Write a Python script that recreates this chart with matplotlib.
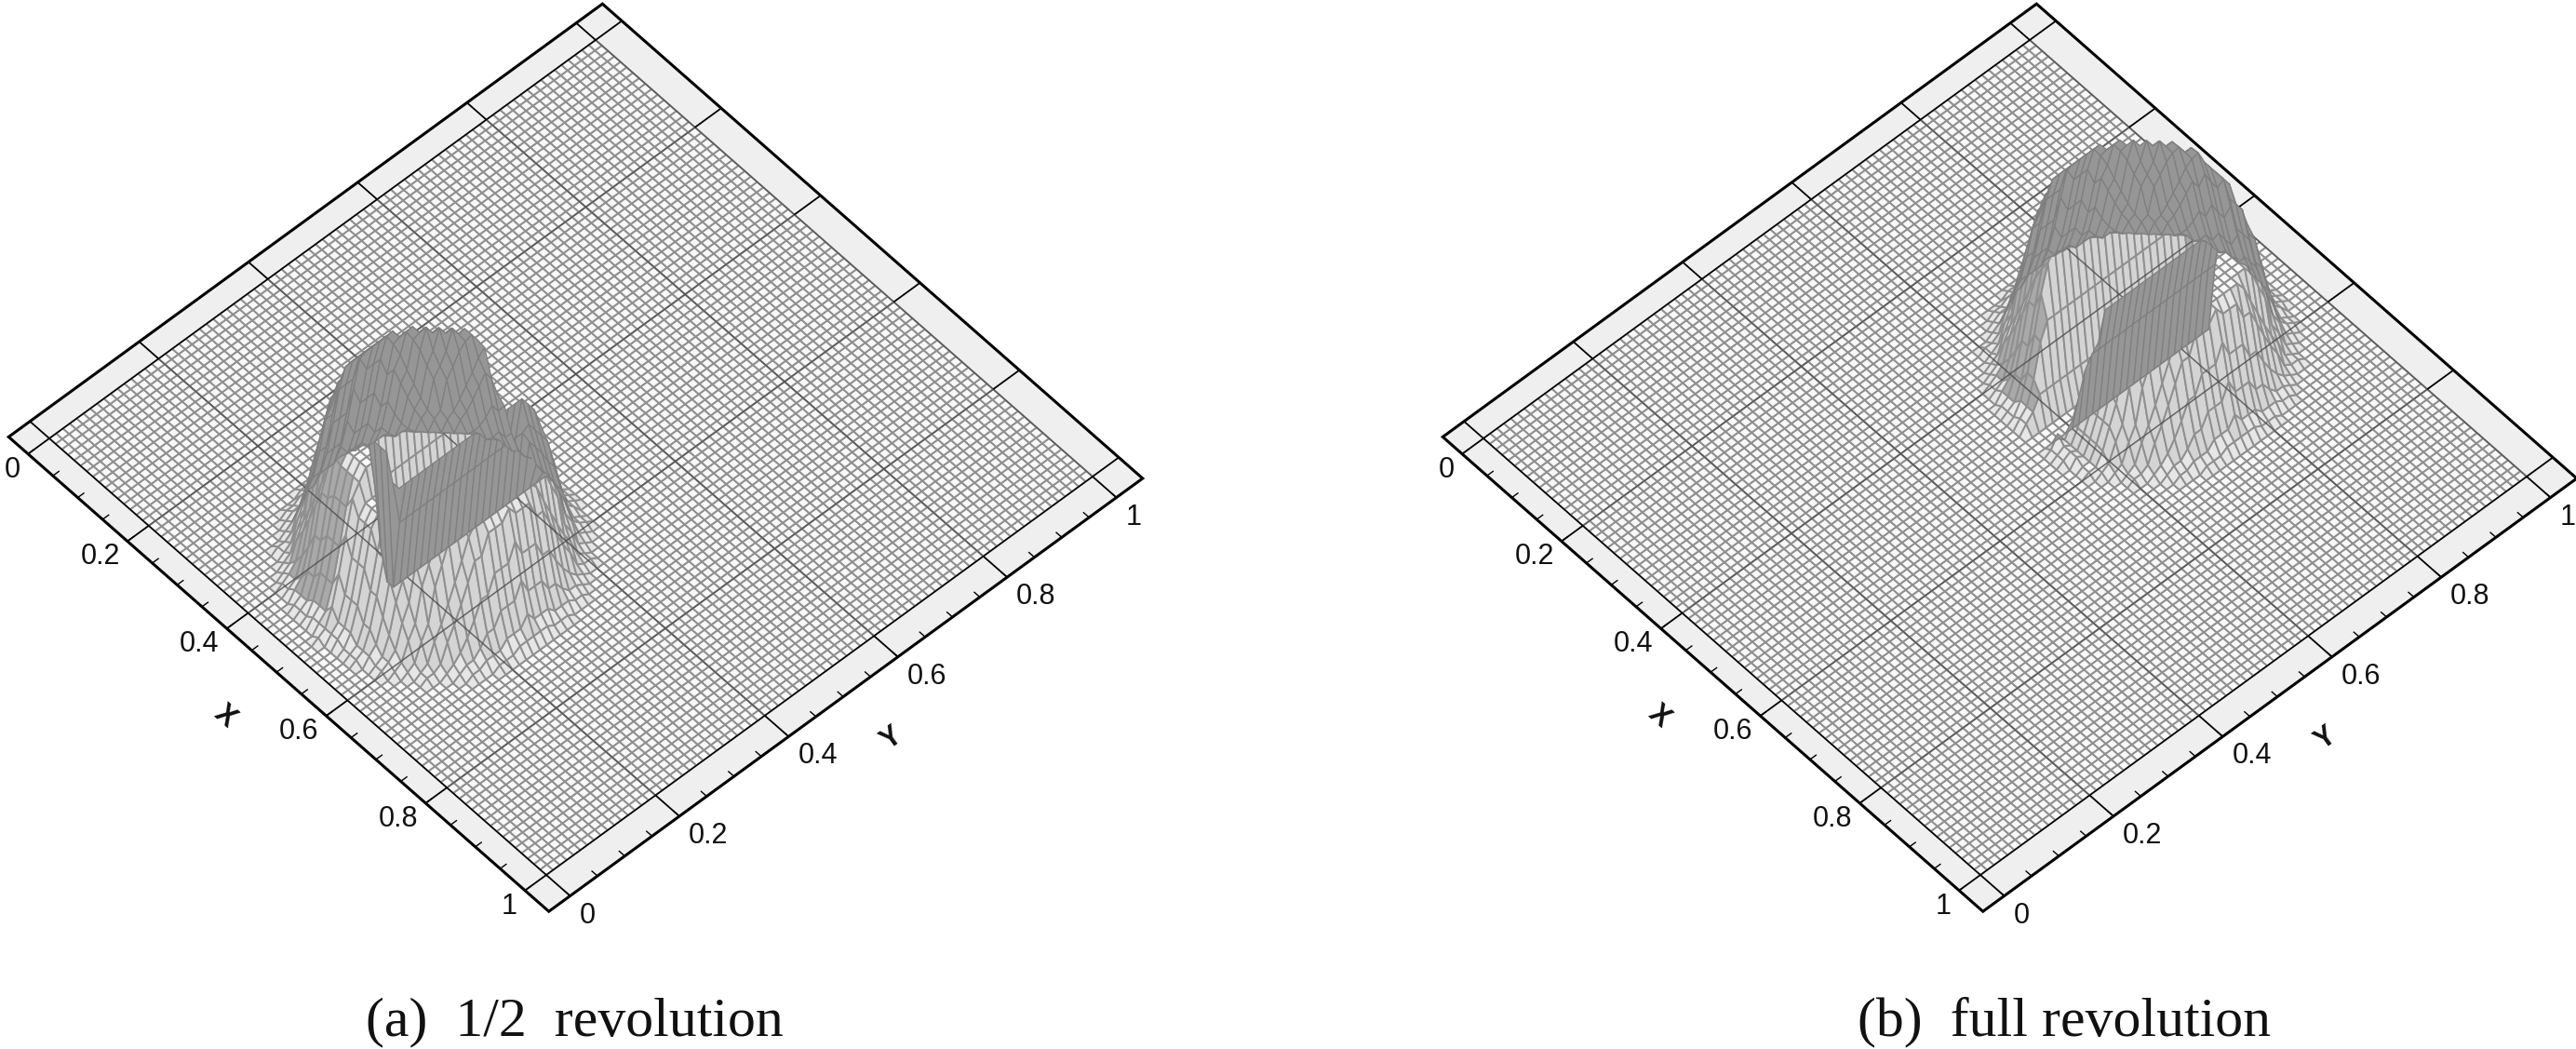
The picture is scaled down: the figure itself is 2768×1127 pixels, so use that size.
import numpy as np
import matplotlib
matplotlib.use('Agg')
import matplotlib.pyplot as plt
from matplotlib.collections import PolyCollection, LineCollection
from matplotlib.patches import Polygon

# ---- values ----
X_TICKS = [0, 0.2, 0.4, 0.6, 0.8, 1]
Y_TICKS = [0, 0.2, 0.4, 0.6, 0.8, 1]
X_TICK_LABELS = ['0', '0.2', '0.4', '0.6', '0.8', '1']
Y_TICK_LABELS = ['0', '0.2', '0.4', '0.6', '0.8', '1']
MINOR_TICKS = [k / 20 for k in range(21)]
CAPTIONS = ['(a)  1/2  revolution', '(b)  full revolution']
CELLS = 80

# half-width (in mesh cells, along y) of each height contour, per row distance from the disk centre
W_100 = [10, 10, 10, 10, 9, 9, 8, 7, 6, 5, 3, -1, -1, -1, -1, -1, -1]
W_093 = [11, 11, 11, 11, 10, 10, 9, 9, 8, 7, 5, 3, -1, -1, -1, -1, -1]
W_085 = [12, 11, 11, 11, 11, 10, 10, 9, 8, 7, 6, 4, 0, -1, -1, -1, -1]
W_075 = [12, 12, 12, 12, 11, 11, 10, 10, 9, 8, 7, 5, 3, -1, -1, -1, -1]
W_062 = [13, 12, 12, 12, 12, 12, 11, 10, 10, 9, 8, 6, 5, 0, -1, -1, -1]
W_050 = [13, 13, 13, 13, 12, 12, 12, 11, 10, 10, 9, 7, 6, 3, -1, -1, -1]
W_038 = [14, 13, 13, 13, 13, 13, 12, 12, 11, 10, 9, 8, 7, 5, 0, -1, -1]
W_027 = [14, 14, 14, 14, 13, 13, 13, 12, 12, 11, 10, 9, 8, 6, 3, -1, -1]
W_018 = [15, 14, 14, 14, 14, 14, 13, 13, 12, 12, 11, 10, 9, 7, 5, 0, -1]
W_011 = [15, 15, 15, 15, 14, 14, 14, 13, 13, 12, 11, 10, 9, 8, 6, 3, -1]
W_006 = [16, 16, 16, 15, 15, 15, 15, 14, 14, 13, 12, 11, 10, 9, 8, 6, 2]
W_003 = [17, 16, 16, 16, 16, 16, 15, 15, 15, 14, 13, 12, 12, 10, 9, 8, 5]
CONTOUR_LEVELS = [0.03, 0.06, 0.11, 0.18, 0.27, 0.38, 0.50, 0.62, 0.75, 0.85, 0.93, 1.00]
CONTOUR_WIDTHS = [W_003, W_006, W_011, W_018, W_027, W_038, W_050, W_062, W_075, W_085, W_093, W_100]

DISK_ROW = [40, 40]            # x index of the disk centre in (a), (b)
DISK_COL = [20, 60]            # y index of the disk centre in (a), (b)
SLOT_ROWS_A = [-3, -2, -1, 0, 1]
SLOT_LEVELS_A = [0.62, 0.2, 0.0, 0.0, 0.5]
SLOT_COLS_A = (-6, 18)
SLOT_ROWS_B = [-2, -1, 0, 1, 2, 3]
SLOT_LEVELS_B = [0.62, 0.2, 0.0, 0.0, 0.0, 0.5]
SLOT_COLS_B = (-18, 8)
FRONT_CAP = 0.82               # height of the piece in front of the slot
FAR_GAIN = [1.12, 1.03]        # the far piece stands a little higher
# heights of the front piece close to the slot mouth: offset from disk centre (cols), level
LIP_COLS_B = [-14, -13, -12, -11, -10]
LIP_LEVELS_B = [0.03, 0.12, 0.25, 0.42, 0.62]
LIP_COLS_A = [12, 13, 14]
LIP_LEVELS_A = [0.6, 0.4, 0.2]

# ---- projection of the view (pixels) ----
ORIGIN = np.array([53.0, 471.0])
EX = np.array([534.0, 469.0])
EY = np.array([587.0, -428.0])
ZPX = 150.0
M_LOW = 0.039
M_HIGH = 0.048
PANEL_SHIFT = 1541
PANEL_W = 1230
W, H = 2768, 1127


def project(x, y, z=0.0):
    x, y, z = np.asarray(x, float), np.asarray(y, float), np.asarray(z, float)
    return (ORIGIN[0] + x * EX[0] + y * EY[0],
            ORIGIN[1] + x * EX[1] + y * EY[1] - z * ZPX)


def heights(row0, col0, slot_rows, slot_levels, slot_cols, gain, lip_cols, lip_levels):
    z = np.zeros((CELLS + 1, CELLS + 1))
    for level, widths in zip(CONTOUR_LEVELS, CONTOUR_WIDTHS):
        for d, w in enumerate(widths):
            if w < 0:
                continue
            for r in {row0 - d, row0 + d}:
                z[r, col0 - w:col0 + w + 1] = level
    front_row = row0 + max(slot_rows)
    far_row = row0 + min(slot_rows)
    z[front_row:] = np.minimum(z[front_row:], FRONT_CAP)
    z[:far_row] = z[:far_row] * gain
    for c, lev in zip(lip_cols, lip_levels):
        z[front_row:front_row + 6, col0 + c] = np.minimum(z[front_row:front_row + 6, col0 + c], lev)
    for dr, lev in zip(slot_rows, slot_levels):
        a = col0 + slot_cols[0]
        b = col0 + slot_cols[1] + 1
        z[row0 + dr, a:b] = np.minimum(z[row0 + dr, a:b], lev)
    return z


def draw_panel(ax, z, row0, far_row):
    grid = np.linspace(0, 1, CELLS + 1)
    xx, yy = np.meshgrid(grid, grid, indexing='ij')
    px, py = project(xx, yy, z)
    front, front_c, back = [], [], []
    for i in range(CELLS - 1, -1, -1):
        for j in range(CELLS):
            quad = np.array([[px[i, j], py[i, j]], [px[i + 1, j], py[i + 1, j]],
                             [px[i + 1, j + 1], py[i + 1, j + 1]], [px[i, j + 1], py[i, j + 1]]])
            a = 0.5 * np.sum(quad[:, 0] * np.roll(quad[:, 1], -1) - np.roll(quad[:, 0], -1) * quad[:, 1])
            cell = z[i:i + 2, j:j + 2]
            steep = np.ptp(cell)
            dzx = abs(cell[1].mean() - cell[0].mean())
            dzy = abs(cell[:, 1].mean() - cell[:, 0].mean())
            if a > 0:          # reversed winding on screen: faces away from the viewer
                back.append(quad)
            else:
                front.append(quad)
                if i < far_row and cell.min() > 0.7:
                    c = '#a6a6a6'
                elif steep < 0.01:
                    c = '#f8f8f8'
                elif i < row0 - 1 and dzy > 1.5 * dzx and steep > 0.1:
                    c = '#a9a9a9'
                elif steep < 0.09:
                    c = '#e6e6e6'
                else:
                    c = '#d4d4d4'
                front_c.append(c)

    # frame band
    corners_o = np.array([[-M_LOW, -M_LOW], [1 + M_HIGH, -M_LOW], [1 + M_HIGH, 1 + M_HIGH], [-M_LOW, 1 + M_HIGH]])
    ox, oy = project(corners_o[:, 0], corners_o[:, 1])
    ax.add_patch(Polygon(np.c_[ox, oy], closed=True, fc='#efefef', ec='black', lw=2.2, zorder=1, joinstyle='miter'))
    corners_i = np.array([[0, 0], [1, 0], [1, 1], [0, 1]])
    ix, iy = project(corners_i[:, 0], corners_i[:, 1])
    ax.add_patch(Polygon(np.c_[ix, iy], closed=True, fc='white', ec='none', zorder=1.5))

    ax.add_collection(PolyCollection(front, facecolors=front_c, edgecolors='#8f8f8f', linewidths=1.4, zorder=2))

    # grid lines on the floor
    segs = []
    for v in X_TICKS:
        sx, sy = project([v, v], [0, 1])
        segs.append(np.c_[sx, sy])
    for v in Y_TICKS:
        sx, sy = project([0, 1], [v, v])
        segs.append(np.c_[sx, sy])
    ax.add_collection(LineCollection(segs, colors='#505050', linewidths=1.1, alpha=0.85, zorder=3))

    # inner frame lines (all but the far side)
    for p, q in [((0, 1), (0, 0)), ((0, 0), (1, 0)), ((1, 0), (1, 1))]:
        sx, sy = project([p[0], q[0]], [p[1], q[1]])
        ax.plot(sx, sy, color='black', lw=1.0, zorder=3.5)

    # band crossings at the major ticks
    segs = []
    for v in X_TICKS:
        sx, sy = project([v, v], [-M_LOW, 0]); segs.append(np.c_[sx, sy])
        sx, sy = project([v, v], [1, 1 + M_HIGH]); segs.append(np.c_[sx, sy])
    for v in Y_TICKS:
        sx, sy = project([-M_LOW, 0], [v, v]); segs.append(np.c_[sx, sy])
        sx, sy = project([1, 1 + M_HIGH], [v, v]); segs.append(np.c_[sx, sy])
    ax.add_collection(LineCollection(segs, colors='black', linewidths=1.3, zorder=3.5))

    ax.add_collection(PolyCollection(back, facecolors='#969696', edgecolors='#7f7f7f', linewidths=0.9, zorder=4))

    # minor ticks on the two labelled edges
    segs = []
    for v in MINOR_TICKS:
        sx, sy = project([v, v], [-M_LOW, -M_LOW + 0.012]); segs.append(np.c_[sx, sy])
        sx, sy = project([1 + M_HIGH, 1 + M_HIGH - 0.012], [v, v]); segs.append(np.c_[sx, sy])
    ax.add_collection(LineCollection(segs, colors='black', linewidths=1.0, zorder=5))

    # tick labels
    for v, s in zip(X_TICKS, X_TICK_LABELS):
        tx, ty = project(v, -M_LOW)
        ax.text(tx - 8, ty + 17, s, ha='right', va='center', fontsize=22, family='Liberation Sans', color='#111111')
    for v, s in zip(Y_TICKS, Y_TICK_LABELS):
        tx, ty = project(1 + M_HIGH, v)
        ax.text(tx + 10, ty + 21, s, ha='left', va='center', fontsize=22, family='Liberation Sans', color='#111111')
    ax.text(242, 770, 'X', rotation=-41, ha='center', va='center', fontsize=22, family='Liberation Sans',
            fontweight='bold', color='#111111')
    ax.text(958, 794, 'Y', rotation=36, ha='center', va='center', fontsize=22, family='Liberation Sans',
            fontweight='bold', color='#111111')


fig = plt.figure(figsize=(W / 100, H / 100), dpi=100, facecolor='white')
ax_a = fig.add_axes([0, 0, PANEL_W / W, 1])
ax_b = fig.add_axes([PANEL_SHIFT / W, 0, (W - PANEL_SHIFT) / W, 1])
for ax, width in ((ax_a, PANEL_W), (ax_b, W - PANEL_SHIFT)):
    ax.set_xlim(0, width)
    ax.set_ylim(H, 0)
    ax.axis('off')

draw_panel(ax_a, heights(DISK_ROW[0], DISK_COL[0], SLOT_ROWS_A, SLOT_LEVELS_A, SLOT_COLS_A,
                         FAR_GAIN[0], LIP_COLS_A, LIP_LEVELS_A),
           DISK_ROW[0], DISK_ROW[0] + min(SLOT_ROWS_A))
draw_panel(ax_b, heights(DISK_ROW[1], DISK_COL[1], SLOT_ROWS_B, SLOT_LEVELS_B, SLOT_COLS_B,
                         FAR_GAIN[1], LIP_COLS_B, LIP_LEVELS_B),
           DISK_ROW[1], DISK_ROW[1] + min(SLOT_ROWS_B))

fig.text(617 / W, 1 - 1112 / H, CAPTIONS[0], ha='center', va='baseline', fontsize=43,
         family='Liberation Serif', color='#111111')
fig.text(2218 / W, 1 - 1112 / H, CAPTIONS[1], ha='center', va='baseline', fontsize=43,
         family='Liberation Serif', color='#111111')

fig.savefig('out.png', dpi=100)
